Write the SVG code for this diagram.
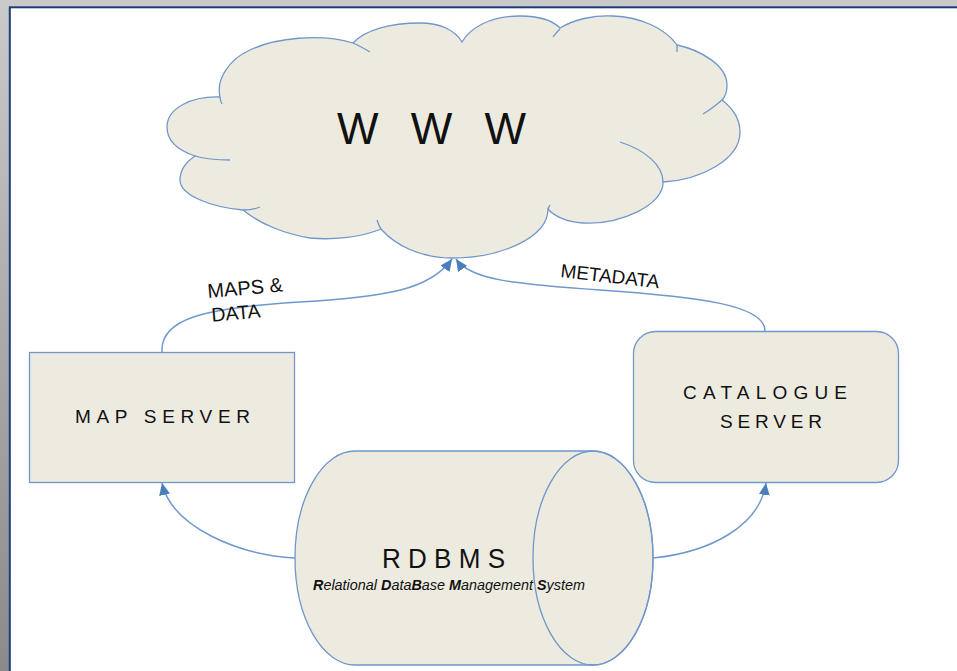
<svg xmlns="http://www.w3.org/2000/svg" width="957" height="671" viewBox="0 0 957 671">
<defs>
<linearGradient id="bg" x1="0" y1="0" x2="0" y2="1">
<stop offset="0" stop-color="#CACACA"/>
<stop offset="1" stop-color="#8A8A8A"/>
</linearGradient>
<marker id="ah" viewBox="0 0 12 11" refX="12" refY="5.5" markerWidth="12" markerHeight="11" markerUnits="userSpaceOnUse" orient="auto">
<path d="M0,0 L12,5.5 L0,11 Z" fill="#4A7EBB"/>
</marker>
</defs>
<style>
.shape{fill:#EDEBE0;stroke:#7096CB;stroke-width:1.3}
.line{fill:none;stroke:#7096CB;stroke-width:1.3}
.conn{fill:none;stroke:#6F98CF;stroke-width:1.5;marker-end:url(#ah)}
.lbl{font-family:"Liberation Sans",Arial,sans-serif;fill:#111}
</style>
<rect x="0" y="0" width="957" height="671" fill="url(#bg)"/>
<rect x="9.8" y="7.3" width="960" height="680" fill="#FFFFFF" stroke="#1F3C78" stroke-width="2"/>

<g id="www">
<path class="shape" d="M195,156 C177,150 167,140 167,127 C167,108 192,96 220,97 C216,80 228,60 250,50 C275,38 320,33 353,43 C365,30 390,23 420,23 C440,23 455,30 462,42 C470,28 490,16 520,16 C540,16 552,20 560,28 C575,19 595,15 613,16 C640,17 665,28 677,45 C700,50 727,65 727,85 C727,92 725,97 722,100 C735,110 740,120 740,132 C740,160 700,180 663,182 C664,205 620,225 583,223 C565,222 553,215 548,209 C548,238 500,258 452,258 C420,258 395,245 381,229 C360,238 330,240 310,238 C285,234 260,224 243,210 C210,207 180,195 180,180 C180,170 186,162 195,156 Z"/>
<path class="line" d="M195,156 C205,159 218,160 230,160 M220,97 C220,99 221,102 222,104 M353,43 C360,46 365,49 370,52 M560,29 C557,32 555,34 553,37 M677,45 L677,52 M722,100 C715,106 710,110 703,114 M663,182 C663,165 645,150 620,142 M548,209 L550,205 M381,229 C379,226 378,223 377,220 M243,210 C250,210 255,209 260,207"/>
<text class="lbl" x="337" y="144" font-size="44" letter-spacing="10">W W W</text>
</g>

<g id="map-server">
<rect class="shape" x="29.5" y="352.5" width="265" height="130"/>
<text class="lbl" x="75" y="423" font-size="19" textLength="175" lengthAdjust="spacing">MAP SERVER</text>
</g>

<g id="catalogue-server">
<rect class="shape" x="633.5" y="331.5" width="265" height="151" rx="22" ry="22"/>
<text class="lbl" x="683" y="399" font-size="19" textLength="164" lengthAdjust="spacing">CATALOGUE</text>
<text class="lbl" x="720" y="428" font-size="19" textLength="102" lengthAdjust="spacing">SERVER</text>
</g>

<g id="rdbms">
<path class="shape" d="M355,451 L593,451 A60,107 0 0 1 593,665 L355,665 A60,107 0 0 1 355,451 Z"/>
<ellipse class="shape" cx="593" cy="558" rx="60" ry="107" style="fill:none"/>
<text class="lbl" x="382" y="568" font-size="27" textLength="123" lengthAdjust="spacingAndGlyphs">R D B M S</text>
<text class="lbl" x="313" y="590" font-size="14" font-style="italic" textLength="272" lengthAdjust="spacingAndGlyphs"><tspan font-weight="bold">R</tspan>elational <tspan font-weight="bold">D</tspan>ata<tspan font-weight="bold">B</tspan>ase <tspan font-weight="bold">M</tspan>anagement <tspan font-weight="bold">S</tspan>ystem</text>
</g>

<g id="connectors">
<path class="conn" d="M162,352 C160,320 200,308 300,302 C385,297 430,290 452,259"/>
<path class="conn" d="M765,331 C765,305 700,297 600,290 C515,284 470,280 456,259"/>
<path class="conn" d="M295,558 C240,555 172,528 162,483"/>
<path class="conn" d="M653,558 C712,552 760,525 766,483"/>
</g>

<g id="labels">
<g transform="translate(208,298) rotate(-5)">
<text class="lbl" x="0" y="0" font-size="20">MAPS &amp;</text>
<text class="lbl" x="2" y="24" font-size="19.5">DATA</text>
</g>
<text class="lbl" transform="translate(560,277) rotate(6.5)" x="0" y="0" font-size="19">METADATA</text>
</g>
</svg>
